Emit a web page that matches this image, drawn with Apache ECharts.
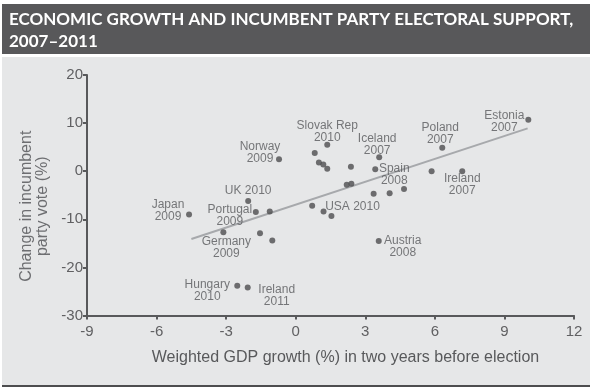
<!DOCTYPE html>
<html>
<head>
<meta charset="utf-8">
<script src="https://cdn.jsdelivr.net/npm/echarts@6/dist/echarts.min.js"></script>
<style>
html,body{margin:0;padding:0;background:#fff;}
#chart{width:600px;height:390px;}
</style>
</head>
<body>
<div id="chart"></div>
<script>
// ---- data ----
var titleLines = ['ECONOMIC GROWTH AND INCUMBENT PARTY ELECTORAL SUPPORT,', '2007–2011'];
var xAxisTitle = 'Weighted GDP growth (%) in two years before election';
var yAxisTitle = 'Change in incumbent\nparty vote (%)';
var xTicks = [-9, -6, -3, 0, 3, 6, 9, 12];
var yTicks = [-30, -20, -10, 0, 10, 20];

var gdpGrowth = [-4.6, -2.05, -1.72, -1.12, -3.12, -1.54, -1.01, -2.52, -2.07, -0.72,
                 0.71, 1.2, 1.54, 1.36, 0.82, 1.0, 1.19, 1.36, 2.38, 2.2,
                 2.4, 3.6, 3.43, 3.36, 4.05, 4.67, 3.58, 5.86, 6.32, 7.18, 10.03];
var voteChange = [-9.0, -6.2, -8.5, -8.4, -12.7, -12.9, -14.4, -23.8, -24.2, 2.5,
                  -7.2, -8.4, -9.3, 5.5, 3.8, 1.8, 1.4, 0.5, 0.9, -2.8,
                  -2.6, 2.9, 0.4, -4.7, -4.6, -3.7, -14.5, 0.0, 4.9, 0.0, 10.7];
var pointLabels = ['Japan\n2009', 'UK 2010', 'Portugal\n2009', '', 'Germany\n2009', '', '', 'Hungary\n2010', 'Ireland\n2011', 'Norway\n2009',
                   '', 'USA 2010', '', 'Slovak Rep\n2010', '', '', '', '', '', '',
                   '', 'Iceland\n2007', 'Spain\n2008', '', '', '', 'Austria\n2008', '', 'Poland\n2007', 'Ireland\n2007', 'Estonia\n2007'];
var trendX = [-4.5, 10.0];
var trendY = [-14.1, 8.9];

// ---- label placement (styling, kept separate from data) ----
var labelOffsets = {
  'Japan\n2009': [-21, -4],
  'UK 2010': [0, -10],
  'Portugal\n2009': [-26, 4],
  'Germany\n2009': [3, 15],
  'Hungary\n2010': [-30, 5],
  'Ireland\n2011': [29, 8],
  'Norway\n2009': [-19, -6],
  'USA 2010': [29, -5],
  'Slovak Rep\n2010': [0, -13],
  'Iceland\n2007': [-2, -13],
  'Spain\n2008': [19, 5],
  'Austria\n2008': [24, 6],
  'Poland\n2007': [-2, -14],
  'Ireland\n2007': [0, 13],
  'Estonia\n2007': [-24, 2]
};

var dotSize = 6;
var scatterData = gdpGrowth.map(function (x, i) {
  var item = { value: [x, voteChange[i]] };
  var lab = pointLabels[i];
  if (lab) {
    var off = labelOffsets[lab] || [0, 0];
    item.label = {
      show: true, formatter: lab,
      position: [dotSize / 2 + off[0], dotSize / 2 + off[1]],
      align: 'center', verticalAlign: 'middle'
    };
  }
  return item;
});
var trendData = trendX.map(function (x, i) { return [x, trendY[i]]; });

var axisColor = '#58595b';
var bodyFont = '"Liberation Sans", Arimo, Arial, Helvetica, sans-serif';
var chart = echarts.init(document.getElementById('chart'), null, { renderer: 'canvas' });
chart.setOption({
  backgroundColor: '#ffffff',
  animation: false,
  graphic: [
    { type: 'rect', z: -10, shape: { x: 2, y: 4, width: 588, height: 50 }, style: { fill: '#58585a' } },
    { type: 'rect', z: -10, shape: { x: 2, y: 57, width: 588, height: 329 }, style: { fill: '#e6e7e8' } },
    { type: 'rect', z: -9, shape: { x: 2, y: 385, width: 588, height: 2 }, style: { fill: '#4d4d4f' } },
    { type: 'text', z: 10, left: 9, top: 9,
      style: { text: titleLines.join('\n'), fill: '#ffffff', font: 'bold 17px Lato, "Open Sans", sans-serif', lineHeight: 22 } }
  ],
  grid: { left: 87, right: 26, top: 75, bottom: 74.5 },
  xAxis: {
    type: 'value', min: xTicks[0], max: xTicks[xTicks.length - 1], interval: 3,
    name: xAxisTitle, nameLocation: 'middle', nameGap: 34,
    nameTextStyle: { color: '#58595b', fontSize: 16, fontFamily: bodyFont, padding: [0, 0, 0, 30] },
    axisLine: { show: true, onZero: false, lineStyle: { color: axisColor, width: 2 } },
    axisTick: { show: true, length: 4, lineStyle: { color: axisColor, width: 2 } },
    axisLabel: { color: '#606062', fontSize: 15, margin: 9, fontFamily: bodyFont },
    splitLine: { show: false }
  },
  yAxis: {
    type: 'value', min: yTicks[0], max: yTicks[yTicks.length - 1], interval: 10,
    name: yAxisTitle, nameLocation: 'middle', nameGap: 36, nameRotate: 90,
    nameTextStyle: { color: '#6d6e71', fontSize: 16, lineHeight: 16, fontFamily: bodyFont, padding: [0, 22, 0, 0] },
    axisLine: { show: true, onZero: false, lineStyle: { color: axisColor, width: 2 } },
    axisTick: { show: true, length: 4, lineStyle: { color: axisColor, width: 2 } },
    axisLabel: { color: '#606062', fontSize: 15, margin: 4, fontFamily: bodyFont },
    splitLine: { show: false }
  },
  series: [
    {
      type: 'line', data: trendData, symbol: 'none', silent: true, z: 1,
      lineStyle: { color: '#a7a9ac', width: 2 }
    },
    {
      type: 'scatter', data: scatterData, symbolSize: dotSize, z: 2,
      itemStyle: { color: '#4d4d4f' },
      label: {
        show: false, color: '#58595b', fontSize: 12, lineHeight: 12,
        fontFamily: bodyFont
      }
    }
  ]
});
</script>
</body>
</html>
